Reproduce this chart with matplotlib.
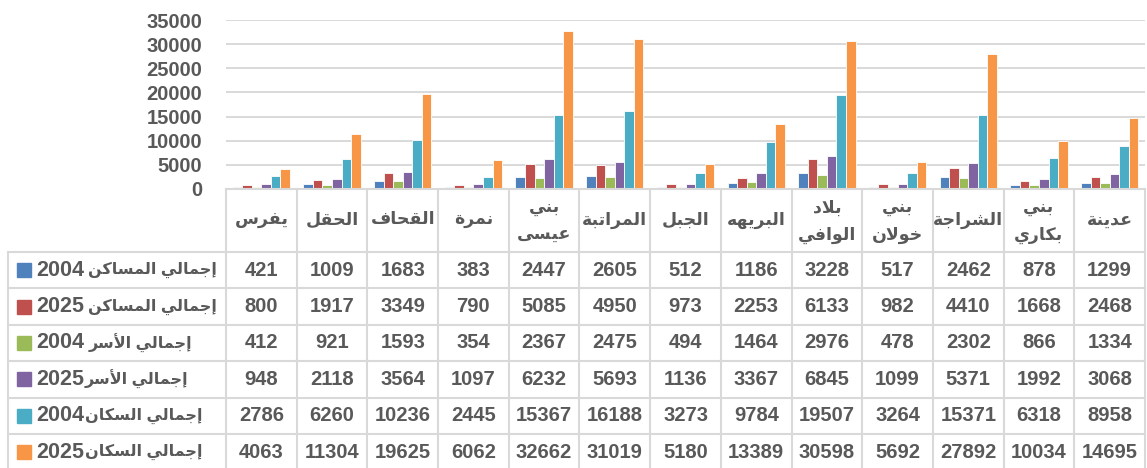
import numpy as np
import matplotlib
matplotlib.use('Agg')
import matplotlib.pyplot as plt
from matplotlib.transforms import blended_transform_factory
from matplotlib.lines import Line2D
from matplotlib.patches import Rectangle

# 아랍어 표시형 변환 (matplotlib 은 글자 연결을 안 해줌)
right = {'ا': '\uFE8D\uFE8E', 'أ': '\uFE83\uFE84', 'إ': '\uFE87\uFE88', 'آ': '\uFE81\uFE82',
         'ة': '\uFE93\uFE94', 'د': '\uFEA9\uFEAA', 'ذ': '\uFEAB\uFEAC', 'ر': '\uFEAD\uFEAE',
         'ز': '\uFEAF\uFEB0', 'و': '\uFEED\uFEEE', 'ى': '\uFEEF\uFEF0'}
dual = {'ب': '\uFE8F\uFE90\uFE91\uFE92', 'ت': '\uFE95\uFE96\uFE97\uFE98', 'ج': '\uFE9D\uFE9E\uFE9F\uFEA0',
        'ح': '\uFEA1\uFEA2\uFEA3\uFEA4', 'خ': '\uFEA5\uFEA6\uFEA7\uFEA8', 'س': '\uFEB1\uFEB2\uFEB3\uFEB4',
        'ش': '\uFEB5\uFEB6\uFEB7\uFEB8', 'ع': '\uFEC9\uFECA\uFECB\uFECC', 'ف': '\uFED1\uFED2\uFED3\uFED4',
        'ق': '\uFED5\uFED6\uFED7\uFED8', 'ك': '\uFED9\uFEDA\uFEDB\uFEDC', 'ل': '\uFEDD\uFEDE\uFEDF\uFEE0',
        'م': '\uFEE1\uFEE2\uFEE3\uFEE4', 'ن': '\uFEE5\uFEE6\uFEE7\uFEE8', 'ه': '\uFEE9\uFEEA\uFEEB\uFEEC',
        'ي': '\uFEF1\uFEF2\uFEF3\uFEF4'}
lamalef = {'ا': '\uFEFB\uFEFC', 'أ': '\uFEF7\uFEF8', 'إ': '\uFEF9\uFEFA', 'آ': '\uFEF5\uFEF6'}


def shape(s):
    out = []
    i = 0
    n = len(s)
    while i < n:
        c = s[i]
        pj = i > 0 and s[i - 1] in dual
        if c == 'ل' and i + 1 < n and s[i + 1] in lamalef:
            out.append(lamalef[s[i + 1]][1 if pj else 0])
            i += 2
            continue
        if c in dual:
            nj = i + 1 < n and (s[i + 1] in dual or s[i + 1] in right)
            f = dual[c]
            out.append(f[3] if pj and nj else f[1] if pj else f[2] if nj else f[0])
        elif c in right:
            out.append(right[c][1 if pj else 0])
        else:
            out.append(c)
        i += 1
    return ''.join(reversed(out))


# 데이터 (화면 왼쪽 -> 오른쪽 순서)
cats = ['يفرس', 'الحقل', 'القحاف', 'نمرة', 'بني\nعيسى', 'المراتبة', 'الجبل', 'البريهه',
        'بلاد\nالوافي', 'بني\nخولان', 'الشراجة', 'بني\nبكاري', 'عدينة']
m04 = [421, 1009, 1683, 383, 2447, 2605, 512, 1186, 3228, 517, 2462, 878, 1299]
m25 = [800, 1917, 3349, 790, 5085, 4950, 973, 2253, 6133, 982, 4410, 1668, 2468]
f04 = [412, 921, 1593, 354, 2367, 2475, 494, 1464, 2976, 478, 2302, 866, 1334]
f25 = [948, 2118, 3564, 1097, 6232, 5693, 1136, 3367, 6845, 1099, 5371, 1992, 3068]
p04 = [2786, 6260, 10236, 2445, 15367, 16188, 3273, 9784, 19507, 3264, 15371, 6318, 8958]
p25 = [4063, 11304, 19625, 6062, 32662, 31019, 5180, 13389, 30598, 5692, 27892, 10034, 14695]
series = [m04, m25, f04, f25, p04, p25]
# 범례 글자: (연도, 간격 있음?, 이름)
years = ['2004', '2025', '2004', '2025', '2004', '2025']
spaced = [True, True, True, False, False, False]
names = ['إجمالي المساكن', 'إجمالي المساكن', 'إجمالي الأسر', 'إجمالي الأسر', 'إجمالي السكان', 'إجمالي السكان']
colors = ['#4F81BD', '#C0504D', '#9BBB59', '#8064A2', '#4BACC6', '#F79646']
yticks = [0, 5000, 10000, 15000, 20000, 25000, 30000, 35000]

W, H = 1147, 468
tc = '#595959'
lc = '#D9D9D9'
fam = ['Liberation Sans', 'DejaVu Sans']

fig = plt.figure(figsize=(W / 100, H / 100), dpi=100)
ax = fig.add_axes([226 / W, 1 - 189 / H, 919 / W, 169 / H])

x = np.arange(len(cats))
bw = 0.135
for k, vals in enumerate(series):
    ax.bar(x + (k - 2.5) * bw, vals, bw, color=colors[k], edgecolor='white', linewidth=0.6, zorder=3)

ax.set_xlim(-0.5, len(cats) - 0.5)
ax.set_ylim(0, 35000)
ax.set_yticks(yticks)
ax.set_yticklabels([str(v) for v in yticks], family=fam, weight='bold', size=14.5, color=tc)
ax.set_xticks([])
ax.tick_params(axis='y', length=0, pad=17)
ax.grid(axis='y', color=lc, lw=1.4, zorder=0)
for s in ax.spines.values():
    s.set_visible(False)

# 아래 데이터 표
tr = blended_transform_factory(ax.transData, fig.transFigure)
ff = fig.transFigure


def fy(py):
    return 1 - py / H


top = 189
hdr_bot = 252
rh = 36.4
row_y = [hdr_bot + i * rh for i in range(7)]

# 가로선
fig.add_artist(Line2D([226 / W, 1145 / W], [fy(top), fy(top)], color=lc, lw=1.5))
for yy in row_y:
    fig.add_artist(Line2D([8 / W, 1145 / W], [fy(yy), fy(yy)], color=lc, lw=1.5))
# 세로선
for i in range(len(cats) + 1):
    fig.add_artist(Line2D([i - 0.5, i - 0.5], [fy(top), fy(row_y[-1])], color=lc, lw=1.5, transform=tr))
fig.add_artist(Line2D([8 / W, 8 / W], [fy(hdr_bot), fy(row_y[-1])], color=lc, lw=1.5))

# 지역 이름
hs = 12.5
for i, c in enumerate(cats):
    parts = c.split('\n')
    if len(parts) == 1:
        fig.text(i, fy(220), shape(parts[0]), transform=tr, ha='center', va='center',
                 family=fam, weight='bold', size=hs, color=tc)
    else:
        fig.text(i, fy(208), shape(parts[0]), transform=tr, ha='center', va='center',
                 family=fam, weight='bold', size=hs, color=tc)
        fig.text(i, fy(235), shape(parts[1]), transform=tr, ha='center', va='center',
                 family=fam, weight='bold', size=hs, color=tc)

# 값과 범례
for k, vals in enumerate(series):
    cy = row_y[k] + rh / 2
    fig.add_artist(Rectangle((17 / W, fy(cy + 7)), 14 / W, 14 / H, color=colors[k], transform=ff))
    t = fig.text(36 / W, fy(cy), years[k], ha='left', va='center', family=fam, weight='bold',
                 size=15.5, color=tc)
    fig.add_artist(matplotlib.text.Annotation(
        shape(names[k]), xy=(1, 0.5), xycoords=t, xytext=(3 if spaced[k] else 0.5, 0),
        textcoords='offset points', ha='left', va='center', family=fam, weight='bold',
        size=11.5, color=tc))
    for i, v in enumerate(vals):
        fig.text(i, fy(cy), str(v), transform=tr, ha='center', va='center', family=fam,
                 weight='bold', size=14.5, color=tc)

fig.savefig('out.png', dpi=100, facecolor='white')
